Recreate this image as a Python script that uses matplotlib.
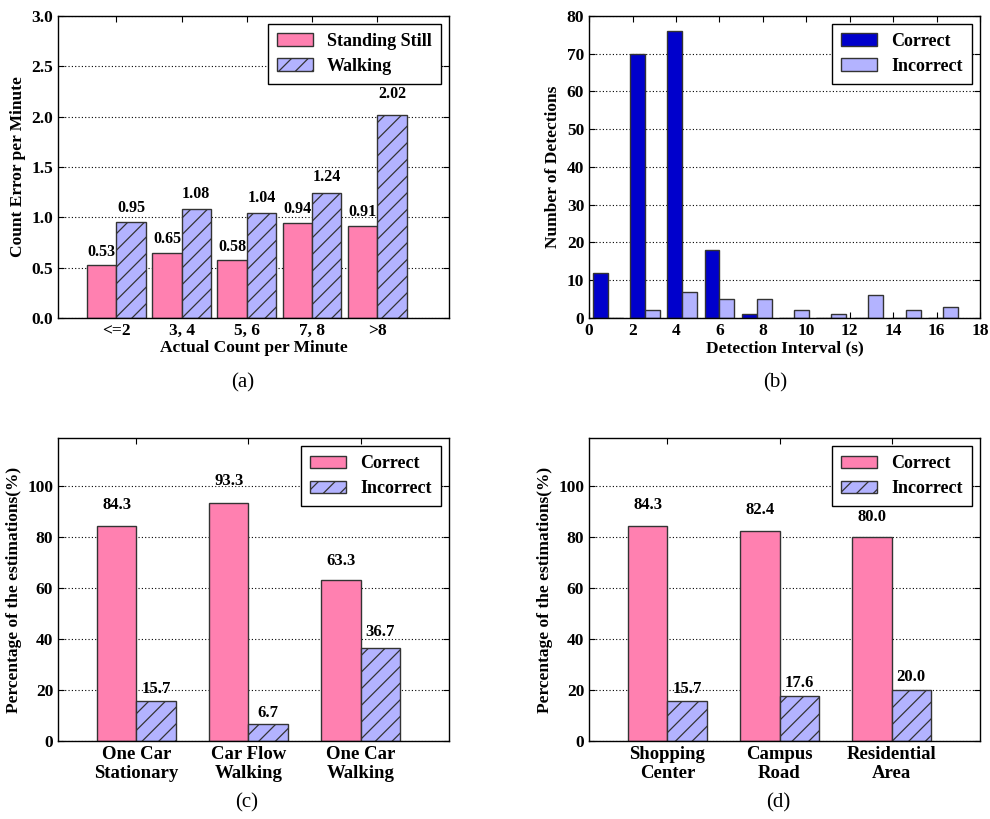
import numpy as np
import matplotlib
matplotlib.use("Agg")
import matplotlib.pyplot as plt

plt.rcParams['font.family'] = ['Liberation Serif', 'DejaVu Serif']
plt.rcParams['font.weight'] = 'bold'
plt.rcParams['axes.labelweight'] = 'bold'
plt.rcParams['hatch.linewidth'] = 0.9

PINK = '#FF80B0'
LILAC = '#B3B3FF'
NAVY = '#0000CC'
EDGE = '#333333'

# (a) count error per minute
count_groups = ['<=2', '3, 4', '5, 6', '7, 8', '>8']
standing_err = [0.53, 0.65, 0.58, 0.94, 0.91]
walking_err = [0.95, 1.08, 1.04, 1.24, 2.02]

# (b) detection interval histogram (10 bins of about 1.715 s)
bin_width = 1.715
correct_counts = [12, 70, 76, 18, 1, 0, 0, 0, 0, 0]
incorrect_counts = [0, 2, 7, 5, 5, 2, 1, 6, 2, 3]

# (c) vehicle scenarios
vehicle_cases = ['One Car\nStationary', 'Car Flow\nWalking', 'One Car\nWalking']
vehicle_correct = [84.3, 93.3, 63.3]
vehicle_incorrect = [15.7, 6.7, 36.7]

# (d) locations
places = ['Shopping\nCenter', 'Campus\nRoad', 'Residential\nArea']
place_correct = [84.3, 82.4, 80.0]
place_incorrect = [15.7, 17.6, 20.0]


def style_axes(ax):
    ax.yaxis.grid(True, linestyle=(0, (1, 2)), color='k', linewidth=0.8)
    ax.set_axisbelow(True)
    ax.tick_params(direction='in', top=True, right=True, length=4,
                   labelsize=12.5)
    for s in ax.spines.values():
        s.set_linewidth(1.0)


def add_legend(ax):
    leg = ax.legend(loc='upper right', fancybox=False, framealpha=1,
                    edgecolor='k', prop={'size': 13, 'weight': 'bold'},
                    handlelength=2.0, handleheight=0.7, handletextpad=0.8,
                    labelspacing=0.45, borderpad=0.5, borderaxespad=0.45)
    leg.get_frame().set_linewidth(1.0)


def paired_bars(ax, labels, first, second, names, width, fmt, fs, pad):
    x = np.arange(len(labels))
    b1 = ax.bar(x - width / 2, first, width, color=PINK, edgecolor=EDGE,
                linewidth=1, label=names[0])
    b2 = ax.bar(x + width / 2, second, width, color=LILAC, edgecolor=EDGE,
                linewidth=1, hatch='//', label=names[1])
    for bars, vals in [(b1, first), (b2, second)]:
        for rect, v in zip(bars, vals):
            ax.text(rect.get_x() + rect.get_width() / 2, 1.05 * v + pad,
                    fmt % v, ha='center', va='bottom', fontsize=fs,
                    fontweight='bold')
    ax.set_xticks(x)
    ax.set_xticklabels(labels)


fig = plt.figure(figsize=(9.9, 8.19), dpi=100)

# (a)
ax = fig.add_axes([0.0586, 0.6117, 0.395, 0.369])
style_axes(ax)
paired_bars(ax, count_groups, standing_err, walking_err,
            ['Standing Still', 'Walking'], 0.45, '%.2f', 11.5, 0.02)
ax.set_xlim(-0.895, 5.1)
ax.set_ylim(0, 3.0)
ax.set_yticks(np.arange(0, 3.01, 0.5))
ax.set_xlabel('Actual Count per Minute', fontsize=12.5, labelpad=1)
ax.set_ylabel('Count Error per Minute', fontsize=12.5)
add_legend(ax)

# (b)
ax = fig.add_axes([0.595, 0.6117, 0.395, 0.369])
style_axes(ax)
edges = np.arange(11) * bin_width
centers = edges[:-1] + bin_width / 2
ax.hist([centers, centers], bins=edges,
        weights=[correct_counts, incorrect_counts], rwidth=0.8,
        color=[NAVY, LILAC], edgecolor=EDGE, linewidth=1,
        label=['Correct', 'Incorrect'])
ax.set_xlim(0, 18)
ax.set_ylim(0, 80)
ax.set_xticks(np.arange(0, 19, 2))
ax.set_yticks(np.arange(0, 81, 10))
ax.set_xlabel('Detection Interval (s)', fontsize=12.5, labelpad=1)
ax.set_ylabel('Number of Detections', fontsize=12.5)
add_legend(ax)

# (c)
ax = fig.add_axes([0.0586, 0.0952, 0.395, 0.370])
style_axes(ax)
paired_bars(ax, vehicle_cases, vehicle_correct, vehicle_incorrect,
            ['Correct', 'Incorrect'], 0.35, '%.1f', 12, 1)
ax.set_xlim(-0.7, 2.79)
ax.set_ylim(0, 119)
ax.set_yticks(np.arange(0, 101, 20))
ax.tick_params(axis='x', labelsize=13.5)
ax.set_ylabel('Percentage of the estimations(%)', fontsize=12.5)
add_legend(ax)

# (d)
ax = fig.add_axes([0.595, 0.0952, 0.395, 0.370])
style_axes(ax)
paired_bars(ax, places, place_correct, place_incorrect,
            ['Correct', 'Incorrect'], 0.35, '%.1f', 12, 1)
ax.set_xlim(-0.7, 2.79)
ax.set_ylim(0, 119)
ax.set_yticks(np.arange(0, 101, 20))
ax.tick_params(axis='x', labelsize=13.5)
ax.set_ylabel('Percentage of the estimations(%)', fontsize=12.5)
add_legend(ax)

# panel captions
for x, y, s in [(0.245, 0.533, '(a)'), (0.783, 0.533, '(b)'),
                (0.249, 0.020, '(c)'), (0.786, 0.020, '(d)')]:
    fig.text(x, y, s, ha='center', va='center', fontsize=15,
             fontweight='normal')

fig.savefig('out.png', dpi=100)
